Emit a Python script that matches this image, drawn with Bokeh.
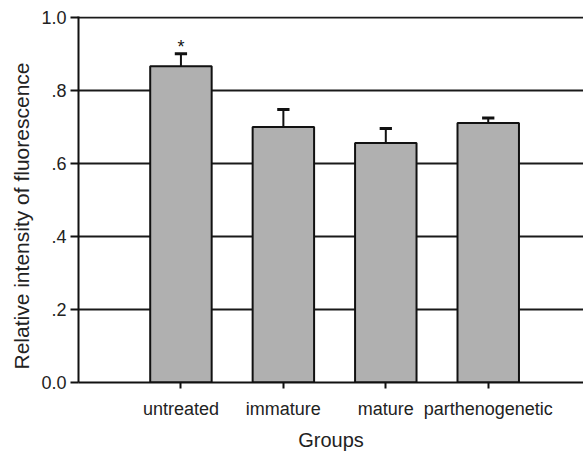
from bokeh.plotting import figure
from bokeh.models import Range1d, FixedTicker, ColumnDataSource, Title
from bokeh.embed import file_html
from bokeh.resources import INLINE
from bokeh.core.properties import value

groups = ["untreated", "immature", "mature", "parthenogenetic"]
means = [0.867, 0.700, 0.656, 0.711]
errors = [0.034, 0.048, 0.040, 0.014]
marks = ["*", "", "", ""]
y_ticks = [0.0, 0.2, 0.4, 0.6, 0.8, 1.0]
y_tick_labels = ["0.0", ".2", ".4", ".6", ".8", "1.0"]

xs = list(range(1, len(groups) + 1))
tops = [m + e for m, e in zip(means, errors)]
src = ColumnDataSource(dict(x=xs, top=means, etop=tops, mark=marks,
                            cl=[x - 0.06 for x in xs], cr=[x + 0.06 for x in xs]))

FONT = "Liberation Sans"
p = figure(width=583, height=453, output_backend="svg", toolbar_location=None,
           x_range=Range1d(0, 4.93), y_range=Range1d(0, 1.003),
           min_border_left=78, min_border_right=0, min_border_top=16, min_border_bottom=67)
p.outline_line_color = None
p.background_fill_color = "white"
p.border_fill_color = "white"

p.xgrid.visible = False
p.ygrid.ticker = FixedTicker(ticks=[0.2, 0.4, 0.6, 0.8, 1.0])
p.ygrid.grid_line_color = "#1a1a1a"
p.ygrid.grid_line_width = 2

p.vbar(x="x", top="top", bottom=0, width=0.6, source=src,
       fill_color="#b0b0b0", line_color="#111111", line_width=2)
p.segment(x0="x", y0="top", x1="x", y1="etop", source=src, line_color="#111111", line_width=2)
p.segment(x0="cl", y0="etop", x1="cr", y1="etop", source=src, line_color="#111111", line_width=3)
p.text(x="x", y="etop", text="mark", source=src, text_align="center", text_baseline="alphabetic",
       y_offset=-7, text_font=value(FONT), text_font_size="18px", text_color="#111111")

p.yaxis.ticker = FixedTicker(ticks=y_ticks)
p.yaxis.major_label_overrides = {t: l for t, l in zip(y_ticks, y_tick_labels)}
p.xaxis.ticker = FixedTicker(ticks=xs)
p.xaxis.major_label_overrides = {x: g for x, g in zip(xs, groups)}

for ax in (p.xaxis, p.yaxis):
    ax.axis_line_width = 2
    ax.axis_line_color = "#111111"
    ax.major_tick_line_width = 2
    ax.major_tick_line_color = "#111111"
    ax.minor_tick_line_color = None
    ax.major_tick_in = 0
    ax.major_label_text_font = FONT
    ax.major_label_text_color = "#222222"
    ax.axis_label_text_font = FONT
    ax.axis_label_text_font_style = "normal"
    ax.axis_label_text_color = "#222222"

p.yaxis.major_label_text_font_size = "18px"
p.xaxis.major_label_text_font_size = "18px"
p.yaxis.major_tick_out = 8
p.yaxis.major_label_standoff = 4
p.xaxis.major_tick_out = 6
p.xaxis.major_label_standoff = 10
p.xaxis.axis_label = "Groups"
p.xaxis.axis_label_text_font_size = "20px"
p.xaxis.axis_label_standoff = 7

ytitle = Title(text="Relative intensity of fluorescence", align="left", offset=13,
               text_font=FONT, text_font_size="21px", text_font_style="normal",
               text_color="#222222", standoff=12)
p.add_layout(ytitle, "left")

open("out.html", "w").write(file_html(p, INLINE))
